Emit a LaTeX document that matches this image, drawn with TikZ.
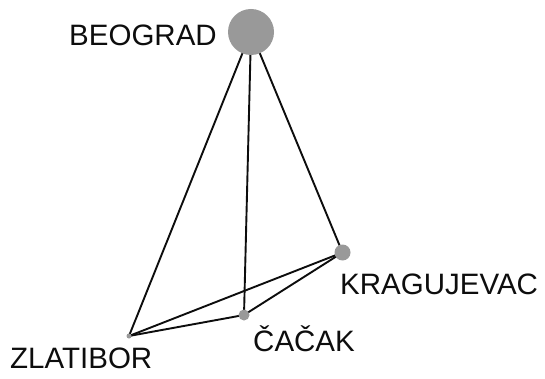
\documentclass[tikz,border=0pt]{standalone}
\usepackage{fontspec}
\setmainfont{Liberation Sans}
\begin{document}
\begin{tikzpicture}[x=1pt,y=-1pt,
  city/.style={circle,fill=black!40,inner sep=0pt,minimum size=#1},
  road/.style={line width=1.9pt,draw=black!95},
  lbl/.style={anchor=base west,inner sep=0pt,text=black!95,font=\fontsize{29.5}{31}\selectfont}]
\useasboundingbox (0,0) rectangle (545,379);
\coordinate (b) at (251,32);
\coordinate (k) at (342.5,252.5);
\coordinate (c) at (244,315);
\coordinate (z) at (129,336);
\draw[road] (b) -- (z);
\draw[road] (b) -- (c);
\draw[road] (b) -- (k);
\draw[road] (k) -- (z);
\draw[road] (k) -- (c);
\draw[road] (z) -- (c);
\node[city=46pt] (B) at (b) {};
\node[city=16pt] (K) at (k) {};
\node[city=11pt] (C) at (c) {};
\node[city=5pt] (Z) at (z) {};
\node[lbl] (lb) at (69,46) {BEOGRAD};
\node[lbl] (lk) at (340,294) {KRAGUJEVAC};
\node[lbl] (lz) at (10,368) {ZLATIBOR};
\node[lbl] (lc) at (253,351) {ČAČAK};
\end{tikzpicture}
\end{document}
